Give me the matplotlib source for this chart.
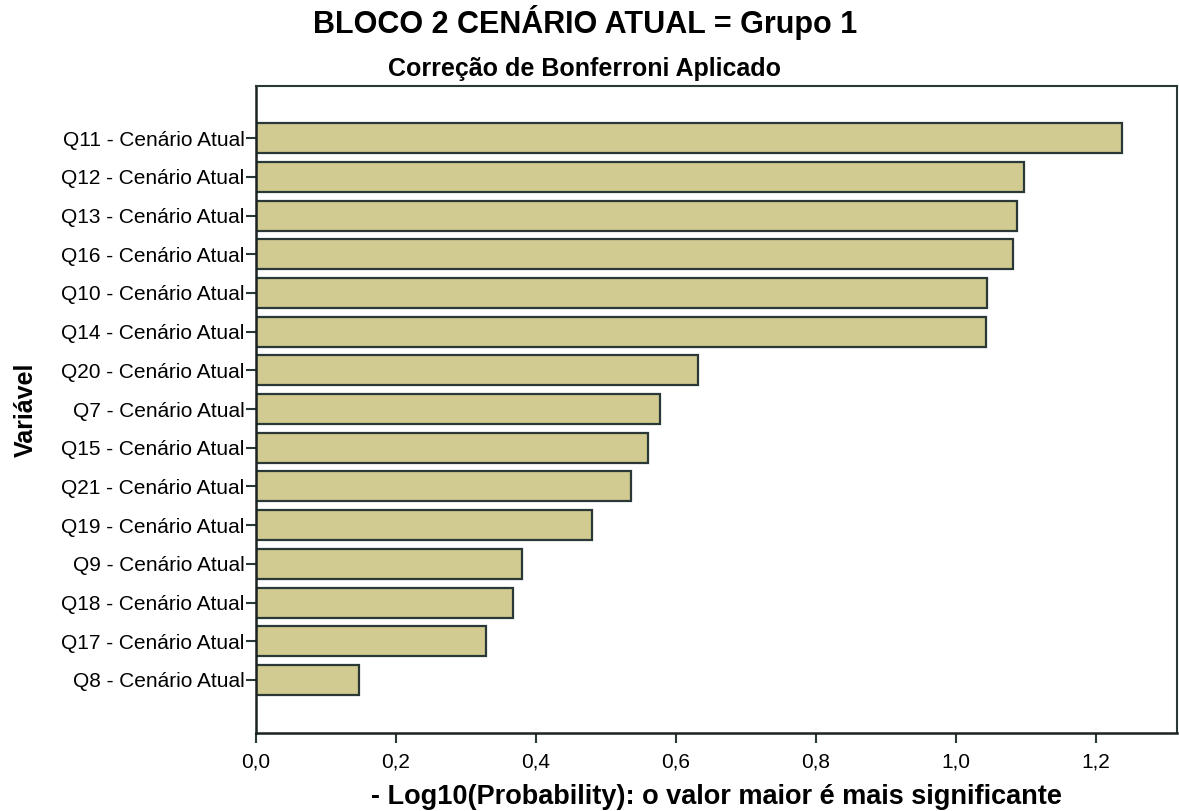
import matplotlib
matplotlib.use("Agg")
import numpy as np
import matplotlib.pyplot as plt
from matplotlib.ticker import FuncFormatter

plt.rcParams['font.family'] = ['Liberation Sans', 'DejaVu Sans']

# variables, top to bottom
variables = ['Q11 - Cenário Atual', 'Q12 - Cenário Atual', 'Q13 - Cenário Atual',
             'Q16 - Cenário Atual', 'Q10 - Cenário Atual', 'Q14 - Cenário Atual',
             'Q20 - Cenário Atual', 'Q7 - Cenário Atual', 'Q15 - Cenário Atual',
             'Q21 - Cenário Atual', 'Q19 - Cenário Atual', 'Q9 - Cenário Atual',
             'Q18 - Cenário Atual', 'Q17 - Cenário Atual', 'Q8 - Cenário Atual']
# -log10(p)
neglog_p = [1.238, 1.097, 1.088, 1.082, 1.045, 1.043,
            0.632, 0.577, 0.560, 0.536, 0.480, 0.381,
            0.367, 0.329, 0.147]
xticks_vals = [0.0, 0.2, 0.4, 0.6, 0.8, 1.0, 1.2]

edge = '#2a3838'

fig = plt.figure(figsize=(11.79, 8.11), dpi=100)
ax = fig.add_axes([0.2169, 0.0962, 0.7814, 0.7978])

ind = np.arange(len(variables))
ax.barh(ind, neglog_p, height=0.775, color='#d1cb91', edgecolor=edge, linewidth=1.6)

ax.set_ylim(len(variables) - 1 + 1.37, -1.35)
ax.set_xlim(0, 1.316)
ax.set_yticks(ind)
ax.set_yticklabels(variables, fontsize=15)
ax.set_xticks(xticks_vals)
ax.xaxis.set_major_formatter(FuncFormatter(lambda v, p: ('%.1f' % v).replace('.', ',')))
ax.tick_params(axis='x', labelsize=15, length=7, width=1.5, color=edge, pad=7)
ax.tick_params(axis='y', length=7, width=1.5, color=edge, pad=1)

for s in ['top', 'right']:
    ax.spines[s].set_color(edge)
    ax.spines[s].set_linewidth(1.5)
for s in ['left', 'bottom']:
    ax.spines[s].set_color('#1a2222')
    ax.spines[s].set_linewidth(1.8)

ax.set_xlabel('- Log10(Probability): o valor maior é mais significante',
              fontsize=19.5, fontweight='bold', labelpad=9)
ax.set_ylabel('Variável', fontsize=18, fontweight='bold')
ax.yaxis.set_label_coords(-0.236, 0.5)

fig.text(0.496, 0.972, 'BLOCO 2 CENÁRIO ATUAL = Grupo 1', fontsize=22,
         fontweight='bold', ha='center', va='center')
fig.text(0.496, 0.915, 'Correção de Bonferroni Aplicado', fontsize=18,
         fontweight='bold', ha='center', va='center')

fig.savefig('out.png', dpi=100)
